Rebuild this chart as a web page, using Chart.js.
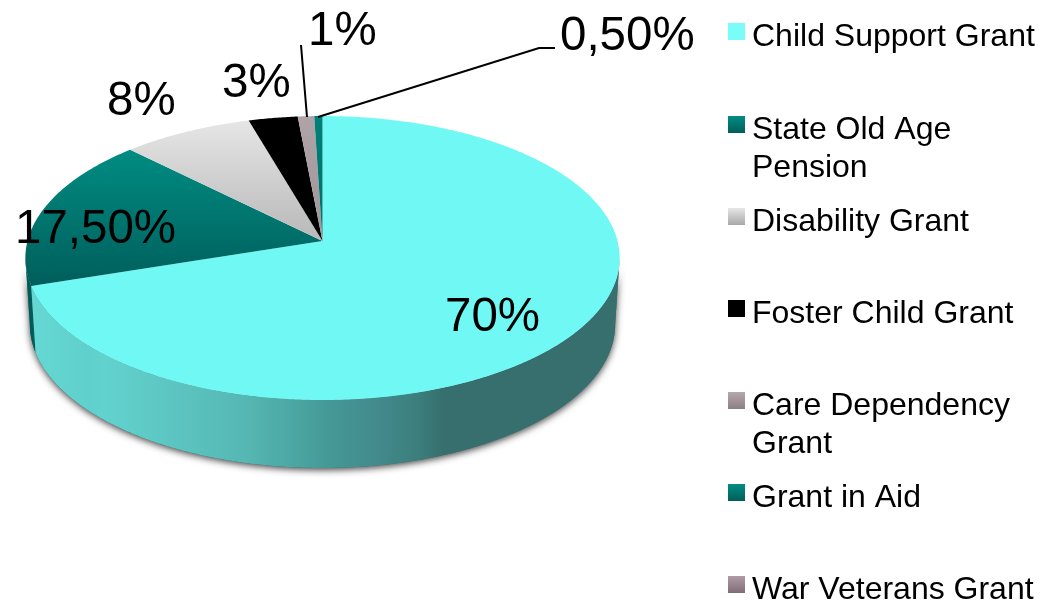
<!DOCTYPE html>
<html>
<head>
<meta charset="utf-8">
<style>
html, body { margin: 0; padding: 0; background: #fff; overflow: hidden; }
canvas { display: block; }
</style>
<script src="https://cdn.jsdelivr.net/npm/chart.js@4/dist/chart.umd.min.js"></script>
</head>
<body>
<canvas id="grantChart" width="1052" height="603"></canvas>
<script>
// data
const grantNames = ["Child Support Grant", "State Old Age Pension", "Disability Grant", "Foster Child Grant", "Care Dependency Grant", "Grant in Aid", "War Veterans Grant"];
const grantShares = [70, 17.5, 8, 3, 1, 0.5, 0];
const shareLabels = ["70%", "17,50%", "8%", "3%", "1%", "0,50%", ""];

// look
const faceColors = [
    ["#70f8f4", "#70f8f4"],
    ["#008c82", "#005e5b"],
    ["#e6e6e6", "#b8b8b8"],
    ["#000000", "#000000"],
    ["#aea4a8", "#a0969a"],
    ["#008078", "#006f6a"],
    ["#ac9aa2", "#8c7880"]
];
const swatchColors = [
    ["#7afcf8", "#7afcf8"],
    ["#008c82", "#005e5b"],
    ["#e6e6e6", "#a8a8a8"],
    ["#000000", "#000000"],
    ["#b4a8ac", "#8c8085"],
    ["#008c82", "#005e5b"],
    ["#b09ca6", "#806c74"]
];
const wallStops = [
    [0, "#66d8d4"], [0.1, "#5fd0cc"], [0.13, "#62d2ce"], [0.25, "#5cc4c0"], [0.36, "#56b8b4"],
    [0.44, "#4ca8a4"], [0.5, "#459a96"], [0.6, "#42888a"], [0.66, "#3b7e7c"], [0.7, "#366f6e"], [1, "#366f6e"]
];
const labelSpots = [[445, 331], [15, 243], [107, 115], [222, 97], [308, 45], [560, 50]];
const legendRows = [
    [23, ["Child Support Grant"]],
    [116, ["State Old Age", "Pension"]],
    [208, ["Disability Grant"]],
    [300, ["Foster Child Grant"]],
    [392, ["Care Dependency", "Grant"]],
    [484, ["Grant in Aid"]],
    [576, ["War Veterans Grant"]]
];

// perspective of the disc
const cx = 322.5, apexY = 241, radiusX = 295;
const tilt = -0.1197, slopeY = 111.1;
const rimRight = 0.12, rimLeft = Math.PI - 0.12;

function topPoint(a){
    let u = Math.cos(a), v = Math.sin(a);
    let w = 1 + tilt * v;
    return [cx + radiusX * u / w, (slopeY * v + apexY) / w];
}

function bottomPoint(a){
    let p = topPoint(a);
    return [cx + (p[0] - cx) * 0.985, p[1] + 66 + 2 * Math.sin(a)];
}

function trace(ctx, fn, from, to, first){
    let steps = Math.max(2, Math.ceil(Math.abs(to - from) / 0.008));
    for (let i = 0; i <= steps; i++) {
        let p = fn(from + (to - from) * i / steps);
        if (i == 0 && first) ctx.moveTo(p[0], p[1]);
        else ctx.lineTo(p[0], p[1]);
    }
}

function wallPath(ctx, from, to){
    ctx.beginPath();
    trace(ctx, topPoint, from, to, true);
    trace(ctx, bottomPoint, to, from, false);
    ctx.closePath();
}

function drawWalls(ctx, arcs){
    let first = arcs[0];

    // drop shadow under the rim
    ctx.save();
    ctx.shadowColor = "rgba(50,50,50,0.9)";
    ctx.shadowBlur = 7;
    ctx.shadowOffsetX = 0;
    ctx.shadowOffsetY = 2;
    ctx.fillStyle = "#366f6e";
    wallPath(ctx, rimRight, rimLeft);
    ctx.fill();
    ctx.restore();

    // sliver of the teal slice on the far left
    ctx.fillStyle = "#005c58";
    wallPath(ctx, first.endAngle, rimLeft);
    ctx.fill();

    // front wall of the big slice
    let g = ctx.createLinearGradient(30, 0, 620, 0);
    wallStops.forEach(function(s){ g.addColorStop(s[0], s[1]); });
    ctx.fillStyle = g;
    wallPath(ctx, rimRight, first.endAngle);
    ctx.fill();
}

function drawFace(ctx, arc, colors){
    let ys = [apexY];
    for (let i = 0; i <= 20; i++) {
        ys.push(topPoint(arc.startAngle + (arc.endAngle - arc.startAngle) * i / 20)[1]);
    }
    let g = ctx.createLinearGradient(0, Math.min.apply(null, ys), 0, Math.max.apply(null, ys));
    g.addColorStop(0, colors[0]);
    g.addColorStop(1, colors[1]);
    ctx.fillStyle = g;
    ctx.beginPath();
    ctx.moveTo(cx, apexY);
    trace(ctx, topPoint, arc.startAngle, arc.endAngle, false);
    ctx.closePath();
    ctx.fill();
}

function drawLeaders(ctx){
    ctx.strokeStyle = "#000";
    ctx.lineWidth = 2;
    ctx.beginPath();
    ctx.moveTo(301, 45);
    ctx.lineTo(307, 117);
    ctx.moveTo(318, 117);
    ctx.lineTo(539, 48);
    ctx.lineTo(555, 48);
    ctx.stroke();
}

function drawLabels(ctx){
    ctx.fillStyle = "#000";
    ctx.font = "47.5px 'Liberation Sans'";
    ctx.textAlign = "left";
    ctx.textBaseline = "alphabetic";
    labelSpots.forEach(function(spot, i){
        ctx.fillText(shareLabels[i], spot[0], spot[1]);
    });
}

function drawLegend(ctx){
    ctx.font = "32px 'Liberation Sans'";
    ctx.textAlign = "left";
    ctx.textBaseline = "alphabetic";
    legendRows.forEach(function(row, i){
        let top = row[0];
        let g = ctx.createLinearGradient(0, top, 0, top + 17);
        g.addColorStop(0, swatchColors[i][0]);
        g.addColorStop(1, swatchColors[i][1]);
        ctx.fillStyle = g;
        ctx.fillRect(728, top, 17, 17);
        ctx.fillStyle = "#000";
        row[1].forEach(function(line, n){
            ctx.fillText(line, 752, top + 23 + n * 38);
        });
    });
}

// draws the arcs chart.js laid out, tilted as in the picture
const tiltedPie = {
    id: "tiltedPie",
    beforeDatasetDraw: function(chart){
        let ctx = chart.ctx;
        let arcs = chart.getDatasetMeta(0).data;
        ctx.save();
        drawWalls(ctx, arcs);
        arcs.forEach(function(arc, i){
            if (arc.endAngle > arc.startAngle) drawFace(ctx, arc, faceColors[i]);
        });
        ctx.restore();
        return false;
    },
    afterDraw: function(chart){
        let ctx = chart.ctx;
        ctx.save();
        drawLeaders(ctx);
        drawLabels(ctx);
        drawLegend(ctx);
        ctx.restore();
    }
};

new Chart(document.getElementById("grantChart"), {
    type: "pie",
    data: {
        labels: grantNames,
        datasets: [{
            data: grantShares,
            backgroundColor: faceColors.map(function(c){ return c[0]; }),
            borderWidth: 0
        }]
    },
    options: {
        responsive: false,
        animation: false,
        plugins: {
            legend: { display: false },
            tooltip: { enabled: false }
        }
    },
    plugins: [tiltedPie]
});
</script>
</body>
</html>
